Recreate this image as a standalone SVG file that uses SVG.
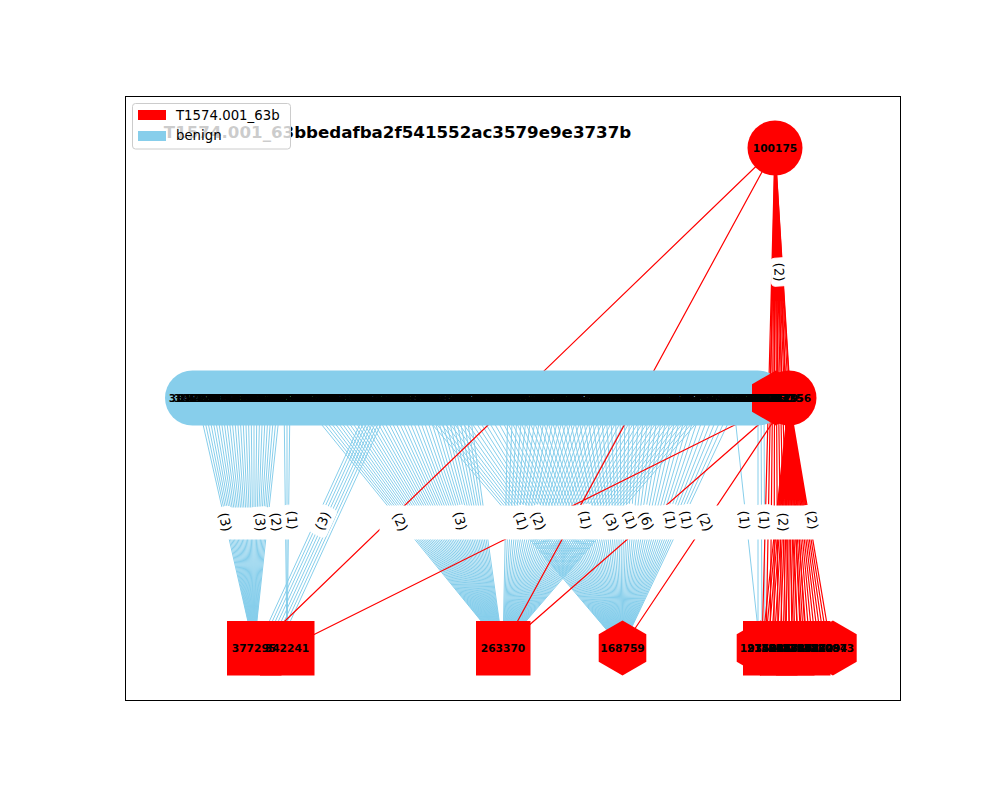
<svg xmlns="http://www.w3.org/2000/svg" width="1000" height="800" viewBox="0 0 1000 800">
<style>
.be{stroke:#87ceeb;stroke-width:1;fill:none}
.re{stroke:#ff0000;stroke-width:1.2;fill:none}
.nl{font-family:"DejaVu Sans","Liberation Sans",sans-serif;font-size:10.67px;font-weight:bold;fill:#000;text-anchor:middle}
.el{font-family:"DejaVu Sans","Liberation Sans",sans-serif;font-size:13.3px;fill:#000;text-anchor:middle;dominant-baseline:central}
.lg{font-family:"DejaVu Sans","Liberation Sans",sans-serif;font-size:13.3px;fill:#000}
.box{fill:#fff;stroke:#fff}
.rn{fill:#ff0000}
</style>
<rect x="0" y="0" width="1000" height="800" fill="#fff"/>
<rect x="125.5" y="96.5" width="775" height="604" fill="#fff" stroke="#000" stroke-width="1"/>
<text x="397.5" y="137.5" font-family="DejaVu Sans, Liberation Sans, sans-serif" font-size="16.67" font-weight="bold" text-anchor="middle">T1574.001_63bbedafba2f541552ac3579e9e3737b</text>
<g id="edges">
<path class="be" d="M197 398L254 648M200 398L254 648M203 398L254 648M206 398L254 648M209 398L254 648M212 398L254 648M215 398L254 648M218 398L254 648M221 398L254 648M224 398L254 648M227 398L254 648M230 398L254 648M233 398L254 648M236 398L254 648M239 398L254 648M242 398L254 648M245 398L254 648M248 398L254 648M251 398L254 648M254 398L254 648M257 398L254 648M260 398L254 648M263 398L254 648M266 398L254 648M269 398L254 648M272 398L254 648M275 398L254 648M278 398L254 648M281 398L254 648"/>
<path class="be" d="M284 398L287 648M287 398L287 648M290 398L287 648"/>
<path class="be" d="M372 398L257 648M375 398L260 648M378 398L263 648M381 398L266 648M384 398L269 648M387 398L272 648M390 398L275 648M393 398L278 648"/>
<path class="be" d="M300 398L503 648M304 398L503 648M308 398L503 648M312 398L503 648M316 398L503 648M320 398L503 648M324 398L503 648M328 398L503 648M332 398L503 648M336 398L503 648M340 398L503 648M344 398L503 648M348 398L503 648M352 398L503 648M356 398L503 648M360 398L503 648M364 398L503 648M368 398L503 648M372 398L503 648M376 398L503 648M380 398L503 648M384 398L503 648M388 398L503 648M392 398L503 648M396 398L503 648M400 398L503 648M404 398L503 648M408 398L503 648M412 398L503 648M416 398L503 648M420 398L503 648M424 398L503 648M428 398L503 648M432 398L503 648M436 398L503 648M440 398L503 648M444 398L503 648M448 398L503 648M452 398L503 648M456 398L503 648M460 398L503 648M464 398L503 648M468 398L503 648"/>
<path class="be" d="M508 398L503 648M513 398L503 648M518 398L503 648M523 398L503 648M528 398L503 648M533 398L503 648M538 398L503 648M543 398L503 648M548 398L503 648M553 398L503 648M558 398L503 648M563 398L503 648M568 398L503 648M573 398L503 648M578 398L503 648M583 398L503 648M588 398L503 648M593 398L503 648M598 398L503 648M603 398L503 648M608 398L503 648M613 398L503 648M618 398L503 648M623 398L503 648M628 398L503 648M633 398L503 648M638 398L503 648M643 398L503 648M648 398L503 648M653 398L503 648M658 398L503 648M663 398L503 648M668 398L503 648M673 398L503 648M678 398L503 648M683 398L503 648M688 398L503 648M693 398L503 648M698 398L503 648M703 398L503 648M708 398L503 648M713 398L503 648M718 398L503 648"/>
<path class="be" d="M410 398L622 648M415 398L622 648M420 398L622 648M425 398L622 648M430 398L622 648M435 398L622 648M440 398L622 648M445 398L622 648M450 398L622 648M455 398L622 648M460 398L622 648M465 398L622 648M470 398L622 648M475 398L622 648M480 398L622 648M485 398L622 648M490 398L622 648M495 398L622 648M500 398L622 648M505 398L622 648M510 398L622 648M515 398L622 648M520 398L622 648M525 398L622 648M530 398L622 648M535 398L622 648M540 398L622 648M545 398L622 648M550 398L622 648M555 398L622 648M560 398L622 648M565 398L622 648M570 398L622 648M575 398L622 648M580 398L622 648M585 398L622 648M590 398L622 648M595 398L622 648M600 398L622 648M605 398L622 648M610 398L622 648M615 398L622 648M620 398L622 648M625 398L622 648M630 398L622 648M635 398L622 648M640 398L622 648M645 398L622 648M650 398L622 648M655 398L622 648M660 398L622 648M665 398L622 648M670 398L622 648M675 398L622 648M680 398L622 648M685 398L622 648M690 398L622 648M695 398L622 648M700 398L622 648M705 398L622 648M710 398L622 648M715 398L622 648M720 398L622 648M725 398L622 648M730 398L622 648M735 398L622 648M740 398L622 648"/>
<path class="be" d="M733 398L760 648M758 398L758 648M761 398L762 648M764 398L765 648"/>
<path class="re" d="M775 148L770 398M775 148L774 398M775 148L778 398M775 148L782 398M775 148L786 398M775 148L790 398"/>
<path class="re" d="M775 148L762 648M775 148L766 648M775 148L770 648M775 148L774 648M775 148L778 648M775 148L782 648M775 148L786 648M775 148L790 648M775 148L794 648M775 148L798 648M775 148L802 648M775 148L806 648"/>
<path class="re" d="M789 398L762 648M789 398L765 648M789 398L768 648M789 398L771 648M789 398L774 648M789 398L777 648M789 398L780 648M789 398L783 648M789 398L786 648M789 398L789 648M789 398L792 648M789 398L795 648M789 398L798 648M789 398L801 648M789 398L804 648M789 398L807 648M789 398L810 648M789 398L813 648M789 398L816 648M789 398L819 648M789 398L822 648M789 398L825 648M789 398L828 648M789 398L831 648"/>
<path class="re" d="M775 148L257 648M775 148L503 648M789 398L287 648M789 398L503 648M789 398L622 648"/>
</g>
<g id="edge-labels">
<rect class="box" x="214" y="508" width="84" height="31" rx="6"/>
<rect class="box" x="380" y="506" width="448" height="33" rx="7"/>
<g transform="translate(225,522) rotate(77)"><rect class="box" x="-15" y="-9" width="30" height="18" rx="4"/><text class="el" x="0" y="0">(3)</text></g>
<g transform="translate(260,522) rotate(86)"><rect class="box" x="-15" y="-9" width="30" height="18" rx="4"/><text class="el" x="0" y="0">(3)</text></g>
<g transform="translate(276,522) rotate(84)"><rect class="box" x="-15" y="-9" width="30" height="18" rx="4"/><text class="el" x="0" y="0">(2)</text></g>
<g transform="translate(292,520) rotate(88)"><rect class="box" x="-15" y="-9" width="30" height="18" rx="4"/><text class="el" x="0" y="0">(1)</text></g>
<g transform="translate(323,521) rotate(-65)"><rect class="box" x="-15" y="-9" width="30" height="18" rx="4"/><text class="el" x="0" y="0">(3)</text></g>
<g transform="translate(400,522) rotate(65)"><rect class="box" x="-15" y="-9" width="30" height="18" rx="4"/><text class="el" x="0" y="0">(2)</text></g>
<g transform="translate(460,521) rotate(75)"><rect class="box" x="-15" y="-9" width="30" height="18" rx="4"/><text class="el" x="0" y="0">(3)</text></g>
<g transform="translate(521,521) rotate(72)"><rect class="box" x="-15" y="-9" width="30" height="18" rx="4"/><text class="el" x="0" y="0">(1)</text></g>
<g transform="translate(538,521) rotate(65)"><rect class="box" x="-15" y="-9" width="30" height="18" rx="4"/><text class="el" x="0" y="0">(2)</text></g>
<g transform="translate(585,520) rotate(80)"><rect class="box" x="-15" y="-9" width="30" height="18" rx="4"/><text class="el" x="0" y="0">(1)</text></g>
<g transform="translate(611,522) rotate(65)"><rect class="box" x="-15" y="-9" width="30" height="18" rx="4"/><text class="el" x="0" y="0">(3)</text></g>
<g transform="translate(630,520) rotate(70)"><rect class="box" x="-15" y="-9" width="30" height="18" rx="4"/><text class="el" x="0" y="0">(1)</text></g>
<g transform="translate(646,521) rotate(65)"><rect class="box" x="-15" y="-9" width="30" height="18" rx="4"/><text class="el" x="0" y="0">(6)</text></g>
<g transform="translate(670,520) rotate(80)"><rect class="box" x="-15" y="-9" width="30" height="18" rx="4"/><text class="el" x="0" y="0">(1)</text></g>
<g transform="translate(686,520) rotate(80)"><rect class="box" x="-15" y="-9" width="30" height="18" rx="4"/><text class="el" x="0" y="0">(1)</text></g>
<g transform="translate(705,522) rotate(65)"><rect class="box" x="-15" y="-9" width="30" height="18" rx="4"/><text class="el" x="0" y="0">(2)</text></g>
<g transform="translate(744,520) rotate(85)"><rect class="box" x="-15" y="-9" width="30" height="18" rx="4"/><text class="el" x="0" y="0">(1)</text></g>
<g transform="translate(764,520) rotate(88)"><rect class="box" x="-15" y="-9" width="30" height="18" rx="4"/><text class="el" x="0" y="0">(1)</text></g>
<g transform="translate(783,522) rotate(88)"><rect class="box" x="-15" y="-9" width="30" height="18" rx="4"/><text class="el" x="0" y="0">(2)</text></g>
<g transform="translate(812,520) rotate(80)"><rect class="box" x="-15" y="-9" width="30" height="18" rx="4"/><text class="el" x="0" y="0">(2)</text></g>
<g transform="translate(779,272) rotate(88)"><rect class="box" x="-14" y="-8" width="28" height="16" rx="4"/><text class="el" x="0" y="0">(2)</text></g>
</g>
<g id="node-100175"><circle cx="775" cy="148" r="27.5" class="rn"/><text class="nl" x="775" y="152">100175</text></g>
<g id="benign-cluster"><rect x="165" y="370.5" width="620" height="55" rx="27.5" fill="#87ceeb"/></g>
<g id="node-hex-mid"><polygon class="rn" points="775.8,370.5 799.6,384.25 799.6,411.75 775.8,425.5 752,411.75 752,384.25"/></g>
<g id="node-circle-mid"><circle cx="789" cy="398" r="27.5" class="rn"/></g>
<g id="middle-row-labels">
<text class="nl" x="191" y="402">384217</text><text class="nl" x="201" y="402">290561</text><text class="nl" x="211" y="402">117834</text><text class="nl" x="221" y="402">352908</text><text class="nl" x="231" y="402">401276</text><text class="nl" x="241" y="402">268143</text><text class="nl" x="251" y="402">159302</text><text class="nl" x="261" y="402">377640</text><text class="nl" x="271" y="402">214885</text><text class="nl" x="281" y="402">330719</text><text class="nl" x="291" y="402">198456</text><text class="nl" x="301" y="402">425031</text><text class="nl" x="311" y="402">286374</text><text class="nl" x="321" y="402">141692</text><text class="nl" x="331" y="402">309528</text><text class="nl" x="341" y="402">356817</text><text class="nl" x="351" y="402">223940</text><text class="nl" x="361" y="402">271065</text><text class="nl" x="371" y="402">394182</text><text class="nl" x="381" y="402">132579</text><text class="nl" x="391" y="402">318846</text><text class="nl" x="401" y="402">247713</text><text class="nl" x="411" y="402">165290</text><text class="nl" x="421" y="402">402358</text><text class="nl" x="431" y="402">289614</text><text class="nl" x="441" y="402">176923</text><text class="nl" x="451" y="402">341075</text><text class="nl" x="461" y="402">258396</text><text class="nl" x="471" y="402">120847</text><text class="nl" x="481" y="402">367152</text><text class="nl" x="491" y="402">233689</text><text class="nl" x="501" y="402">296410</text><text class="nl" x="511" y="402">184537</text><text class="nl" x="521" y="402">413862</text><text class="nl" x="531" y="402">325094</text><text class="nl" x="541" y="402">151278</text><text class="nl" x="551" y="402">270349</text><text class="nl" x="561" y="402">389605</text><text class="nl" x="571" y="402">207163</text><text class="nl" x="581" y="402">344218</text><text class="nl" x="591" y="402">262987</text><text class="nl" x="601" y="402">136450</text><text class="nl" x="611" y="402">311729</text><text class="nl" x="621" y="402">379814</text><text class="nl" x="631" y="402">228356</text><text class="nl" x="641" y="402">195671</text><text class="nl" x="651" y="402">357902</text><text class="nl" x="661" y="402">283145</text><text class="nl" x="671" y="402">168430</text><text class="nl" x="681" y="402">404567</text><text class="nl" x="691" y="402">246918</text><text class="nl" x="701" y="402">322673</text><text class="nl" x="711" y="402">189204</text><text class="nl" x="721" y="402">371385</text><text class="nl" x="731" y="402">254796</text><text class="nl" x="741" y="402">137568</text><text class="nl" x="751" y="402">298021</text><text class="nl" x="761" y="402">416734</text><text class="nl" x="771" y="402">231850</text>
<text class="nl" x="196" y="402">306418</text><text class="nl" x="206" y="402">172593</text><text class="nl" x="216" y="402">418027</text><text class="nl" x="226" y="402">263751</text><text class="nl" x="236" y="402">139864</text><text class="nl" x="246" y="402">347290</text><text class="nl" x="256" y="402">285136</text><text class="nl" x="266" y="402">197402</text><text class="nl" x="276" y="402">362589</text><text class="nl" x="286" y="402">224617</text><text class="nl" x="296" y="402">411953</text><text class="nl" x="306" y="402">158320</text><text class="nl" x="316" y="402">299784</text><text class="nl" x="326" y="402">336042</text><text class="nl" x="336" y="402">181675</text><text class="nl" x="346" y="402">274308</text><text class="nl" x="356" y="402">395861</text><text class="nl" x="366" y="402">127496</text><text class="nl" x="376" y="402">316523</text><text class="nl" x="386" y="402">243187</text><text class="nl" x="396" y="402">408695</text><text class="nl" x="406" y="402">169234</text><text class="nl" x="416" y="402">352760</text><text class="nl" x="426" y="402">281049</text><text class="nl" x="436" y="402">134872</text><text class="nl" x="446" y="402">373516</text><text class="nl" x="456" y="402">259183</text><text class="nl" x="466" y="402">192647</text><text class="nl" x="476" y="402">328901</text><text class="nl" x="486" y="402">215438</text><text class="nl" x="496" y="402">387064</text><text class="nl" x="506" y="402">146295</text><text class="nl" x="516" y="402">303817</text><text class="nl" x="526" y="402">269540</text><text class="nl" x="536" y="402">421378</text><text class="nl" x="546" y="402">178906</text><text class="nl" x="556" y="402">338259</text><text class="nl" x="566" y="402">252613</text><text class="nl" x="576" y="402">118740</text><text class="nl" x="586" y="402">365492</text><text class="nl" x="596" y="402">237085</text><text class="nl" x="606" y="402">293671</text><text class="nl" x="616" y="402">163528</text><text class="nl" x="626" y="402">409217</text><text class="nl" x="636" y="402">276804</text><text class="nl" x="646" y="402">143359</text><text class="nl" x="656" y="402">324986</text><text class="nl" x="666" y="402">388450</text><text class="nl" x="676" y="402">211693</text><text class="nl" x="686" y="402">357038</text><text class="nl" x="696" y="402">186527</text><text class="nl" x="706" y="402">297164</text><text class="nl" x="716" y="402">248371</text><text class="nl" x="726" y="402">419805</text><text class="nl" x="736" y="402">154692</text><text class="nl" x="746" y="402">335218</text><text class="nl" x="756" y="402">266749</text><text class="nl" x="766" y="402">129083</text>
<text class="nl" x="776" y="402">347129</text><text class="nl" x="781" y="402">305135</text><text class="nl" x="789" y="402">212356</text>
</g>
<g id="node-377295"><rect class="rn" x="227" y="621" width="54.5" height="54.5"/></g>
<g id="node-342241"><rect class="rn" x="260" y="621" width="54.5" height="54.5"/><text class="nl" x="254" y="652">377295</text><text class="nl" x="287" y="652">342241</text></g>
<g id="node-263370"><rect class="rn" x="476" y="621" width="54.5" height="54.5"/><text class="nl" x="503" y="652">263370</text></g>
<g id="node-168759"><polygon class="rn" points="622.5,620.5 646.3,634.25 646.3,661.75 622.5,675.5 598.7,661.75 598.7,634.25"/><text class="nl" x="622.5" y="652">168759</text></g>
<g id="cluster-right">
<polygon class="rn" points="760.5,620.5 784.3,634.25 784.3,661.75 760.5,675.5 736.7,661.75 736.7,634.25"/>
<rect class="rn" x="743" y="621" width="54.5" height="54.5"/>
<rect class="rn" x="760" y="621" width="54.5" height="54.5"/>
<rect class="rn" x="776" y="621" width="54.5" height="54.5"/>
<polygon class="rn" points="832.9,620.5 856.7,634.25 856.7,661.75 832.9,675.5 809.1,661.75 809.1,634.25"/>
<text class="nl" x="762" y="652">193528</text><text class="nl" x="769" y="652">274016</text><text class="nl" x="776" y="652">158943</text><text class="nl" x="783" y="652">306271</text><text class="nl" x="790" y="652">241685</text><text class="nl" x="797" y="652">187302</text><text class="nl" x="804" y="652">329457</text><text class="nl" x="811" y="652">265810</text><text class="nl" x="818" y="652">148629</text><text class="nl" x="825" y="652">372094</text><text class="nl" x="832" y="652">220873</text>
</g>
<g id="legend">
<rect x="132.5" y="103.5" width="158" height="45.5" rx="3" fill="#fff" fill-opacity="0.8" stroke="#cccccc" stroke-width="1"/>
<rect x="138" y="110" width="28" height="10" fill="#ff0000"/>
<rect x="138" y="131" width="28" height="10" fill="#87ceeb"/>
<text class="lg" x="176" y="120">T1574.001_63b</text>
<text class="lg" x="176" y="140">benign</text>
</g>
</svg>
